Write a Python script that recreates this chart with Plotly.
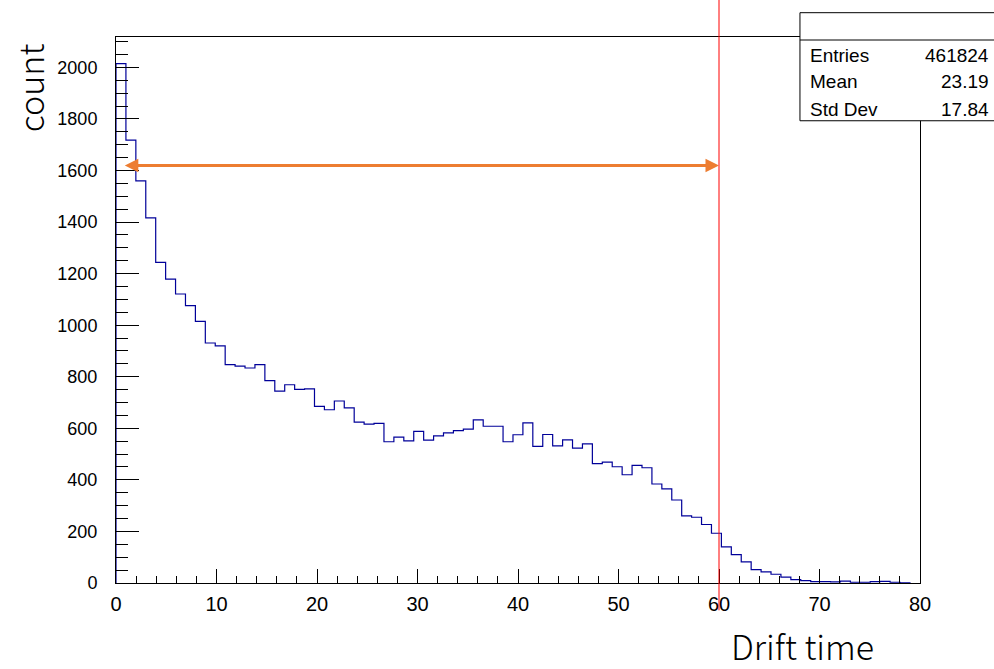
import plotly.graph_objects as go

# Histogram definition: 80 bins spanning 0 .. 79
x_lo, x_hi, n_bins = 0.0, 79.0, 80
counts = [
    2015, 1718, 1560, 1416, 1244, 1179, 1121, 1076, 1015, 931,
    920, 847, 841, 834, 847, 785, 744, 769, 751, 753,
    685, 672, 706, 679, 624, 616, 619, 548, 566, 551,
    588, 554, 571, 582, 591, 597, 633, 608, 608, 548,
    575, 621, 530, 576, 532, 555, 523, 540, 463, 469,
    451, 420, 456, 447, 384, 365, 322, 260, 255, 227,
    193, 140, 110, 82, 52, 43, 34, 23, 13, 9,
    5, 5, 4, 7, 3, 3, 5, 6, 3, 1,
]

# Statistics box
stat_names = ["Entries", "Mean", "Std Dev"]
stat_values = ["461824", "23.19", "17.84"]

# Cut line and double arrow
cut_x = 60
arrow_y = 1620
arrow_x_start = 0.73

x_range = [0, 80]
y_range = [0, 2118]
x_title = "Drift time"
y_title = "count"

width_bin = (x_hi - x_lo) / n_bins
edges = [x_lo + width_bin * i for i in range(n_bins + 1)]
step_x = [edges[0]] + edges + [edges[-1]]
step_y = [0] + counts + [counts[-1], 0]

fig = go.Figure()
fig.add_trace(go.Scatter(
    x=step_x, y=step_y, mode="lines", line_shape="hv",
    line=dict(color="#000099", width=1.2), hoverinfo="skip", showlegend=False,
))

num_font = "Liberation Sans, Arial, Helvetica, sans-serif"
title_font = "Noto Sans CJK JP, Noto Sans, sans-serif"

fig.update_layout(
    width=994, height=669,
    margin=dict(l=116, r=74, t=37, b=86, pad=0),
    paper_bgcolor="white", plot_bgcolor="white",
    showlegend=False,
    xaxis=dict(
        range=x_range, dtick=10, tick0=0, ticks="inside", ticklen=14, tickwidth=1,
        tickcolor="black", showgrid=False, zeroline=False,
        showline=True, mirror=True, linecolor="black", linewidth=1,
        tickfont=dict(family=num_font, size=20, color="black"),
        ticklabelstandoff=3,
        minor=dict(dtick=2, ticks="inside", ticklen=7, tickcolor="black", tickwidth=1, showgrid=False),
    ),
    yaxis=dict(
        range=y_range, dtick=200, tick0=0, ticks="inside", ticklen=23, tickwidth=1,
        tickcolor="black", showgrid=False, zeroline=False,
        showline=True, mirror=True, linecolor="black", linewidth=1,
        tickfont=dict(family=num_font, size=18, color="black"),
        ticklabelstandoff=14,
        minor=dict(dtick=50, ticks="inside", ticklen=12, tickcolor="black", tickwidth=1, showgrid=False),
    ),
)

# Vertical cut line (extends past the frame, as drawn on the canvas)
cut_paper = (cut_x - x_range[0]) / (x_range[1] - x_range[0])
fig.add_shape(type="line", xref="paper", yref="paper",
              x0=cut_paper, x1=cut_paper, y0=-0.05, y1=1.07,
              line=dict(color="#ff0000", width=1))

# Double-headed arrow up to the cut
fig.add_annotation(
    x=cut_x, y=arrow_y, ax=arrow_x_start, ay=arrow_y,
    xref="x", yref="y", axref="x", ayref="y",
    text="", showarrow=True, arrowside="end+start",
    arrowhead=2, arrowsize=0.9, arrowwidth=3, arrowcolor="#ed7d31",
)

# Statistics box
box_x0 = 0.8507
box_top, box_div, box_bot = 1.0445, 0.9945, 0.8466
fig.add_shape(type="rect", xref="paper", yref="paper",
              x0=box_x0, x1=1.12, y0=box_bot, y1=box_top,
              line=dict(color="black", width=1), fillcolor="white", layer="above")
fig.add_shape(type="line", xref="paper", yref="paper",
              x0=box_x0, x1=1.12, y0=box_div, y1=box_div,
              line=dict(color="black", width=1), layer="above")
row_y = [0.967, 0.918, 0.868]
for name, val, yy in zip(stat_names, stat_values, row_y):
    fig.add_annotation(xref="paper", yref="paper", x=0.8607, y=yy, text=name,
                       showarrow=False, xanchor="left", yanchor="middle",
                       font=dict(family=num_font, size=19, color="black"))
    fig.add_annotation(xref="paper", yref="paper", x=1.0883, y=yy, text=val,
                       showarrow=False, xanchor="right", yanchor="middle",
                       font=dict(family=num_font, size=19, color="black"))

# Axis titles
fig.add_annotation(xref="paper", yref="paper", x=0.945, y=-0.114, text=x_title,
                   showarrow=False, xanchor="right", yanchor="middle",
                   font=dict(family=title_font, size=34, color="black", weight=300))
fig.add_annotation(xref="paper", yref="paper", x=-0.108, y=0.9065, text=y_title,
                   textangle=-90, showarrow=False, xanchor="center", yanchor="middle",
                   font=dict(family=title_font, size=34, color="black", weight=300))

fig.write_html("out.html")
